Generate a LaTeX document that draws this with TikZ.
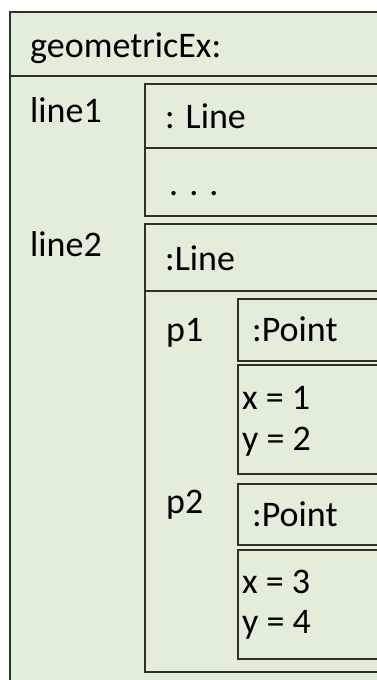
\documentclass[tikz,border=0pt]{standalone}
\usepackage{fontspec}
\setmainfont{Carlito}
\definecolor{bgfill}{RGB}{226,237,218}
\definecolor{edge}{RGB}{45,48,45}
\begin{document}
\begin{tikzpicture}[x=1pt,y=-1pt,
  box/.style={draw=edge,line width=1.8pt,fill=bgfill,rectangle,inner sep=0pt,anchor=north west},
  lbl/.style={anchor=base west,inner sep=0pt,font=\fontsize{36}{42}\selectfont,text=black}]
\useasboundingbox (0,0) rectangle (377,680);
\clip (0,0) rectangle (377,680);
\fill[white] (0,0) rectangle (377,680);
% outer object
\node[box,minimum width=400pt,minimum height=700pt] (outer) at (9,11) {};
\draw[edge,line width=1.8pt] (9,76) coordinate (hl) -- (420,76) coordinate (hr);
\node[lbl] (title) at (30,57) {geometricEx:};
% line1
\node[lbl] (l1name) at (30,122) {line1};
\node[box,minimum width=260pt,minimum height=132pt] (l1box) at (144,83) {};
\draw[edge,line width=1.8pt] (144,148) coordinate (l1a) -- (420,148) coordinate (l1b);
\node[lbl] (l1type) at (165,128) {: Line};
\node[lbl] (l1dots) at (169,195) {.\hspace{11pt}.\hspace{11pt}.};
% line2
\node[lbl] (l2name) at (30,256) {line2};
\node[box,minimum width=260pt,minimum height=448pt] (l2box) at (144,223) {};
\draw[edge,line width=1.8pt] (144,291) coordinate (l2a) -- (420,291) coordinate (l2b);
\node[lbl] (l2type) at (165,270) {:Line};
% p1
\node[lbl] (p1name) at (166,341) {p1};
\node[box,minimum width=170pt,minimum height=62pt] (p1box) at (237,298) {};
\node[lbl] (p1type) at (252,341) {:Point};
\node[box,minimum width=170pt,minimum height=109pt] (p1val) at (237,364) {};
\node[lbl] (p1x) at (242,409) {x = 1};
\node[lbl] (p1y) at (242,450) {y = 2};
% p2
\node[lbl] (p2name) at (166,513) {p2};
\node[box,minimum width=170pt,minimum height=61pt] (p2box) at (237,483) {};
\node[lbl] (p2type) at (252,526) {:Point};
\node[box,minimum width=170pt,minimum height=109pt] (p2val) at (237,549) {};
\node[lbl] (p2x) at (242,593) {x = 3};
\node[lbl] (p2y) at (242,633) {y = 4};
\end{tikzpicture}
\end{document}
